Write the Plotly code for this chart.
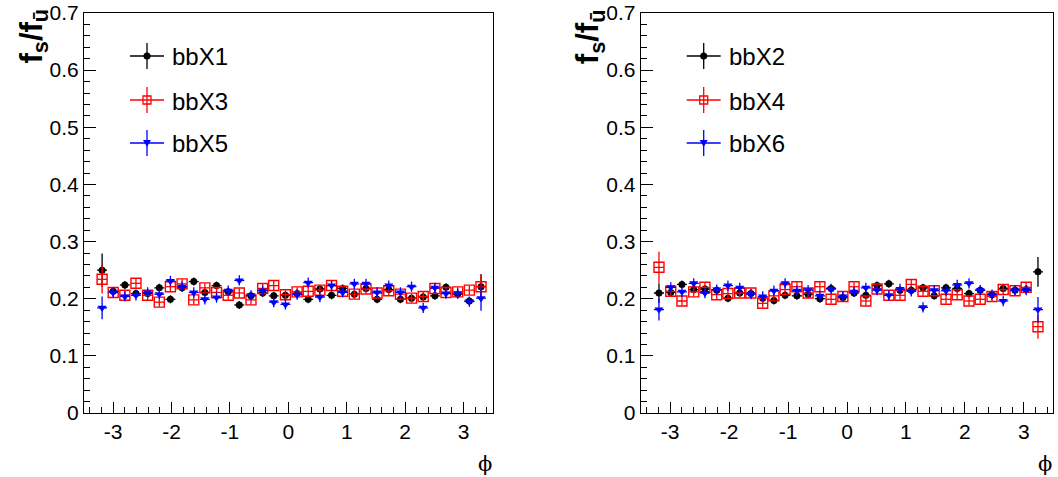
import plotly.graph_objects as go

W, H = 1058, 477

# ---------------- data ----------------
phi_left = [-3.19, -3.00, -2.80, -2.61, -2.41, -2.21, -2.02, -1.82, -1.62, -1.43,
            -1.23, -1.03, -0.84, -0.64, -0.44, -0.25, -0.05, 0.15, 0.34, 0.54,
            0.74, 0.93, 1.13, 1.33, 1.52, 1.72, 1.92, 2.11, 2.31, 2.51,
            2.70, 2.90, 3.10, 3.30]
phi_right = [-3.19, -2.99, -2.80, -2.60, -2.41, -2.21, -2.02, -1.82, -1.63, -1.43,
             -1.24, -1.05, -0.85, -0.66, -0.46, -0.27, -0.07, 0.12, 0.32, 0.51,
             0.71, 0.90, 1.09, 1.29, 1.48, 1.68, 1.87, 2.07, 2.26, 2.46,
             2.65, 2.85, 3.04, 3.24]
phi_err = [0.085] * len(phi_left)

bbX1 = [0.250, 0.213, 0.224, 0.209, 0.209, 0.219, 0.199, 0.219, 0.230, 0.211,
        0.223, 0.212, 0.189, 0.205, 0.210, 0.205, 0.206, 0.209, 0.199, 0.217,
        0.206, 0.218, 0.208, 0.218, 0.199, 0.216, 0.199, 0.201, 0.203, 0.205,
        0.220, 0.208, 0.196, 0.221]
bbX3 = [0.234, 0.211, 0.206, 0.227, 0.206, 0.194, 0.221, 0.226, 0.198, 0.219,
        0.211, 0.206, 0.210, 0.198, 0.218, 0.223, 0.207, 0.212, 0.213, 0.215,
        0.223, 0.213, 0.208, 0.217, 0.210, 0.214, 0.208, 0.201, 0.204, 0.218,
        0.211, 0.212, 0.215, 0.221]
bbX5 = [0.184, 0.211, 0.204, 0.206, 0.211, 0.208, 0.231, 0.221, 0.211, 0.199,
        0.202, 0.214, 0.232, 0.206, 0.214, 0.194, 0.190, 0.207, 0.228, 0.203,
        0.223, 0.211, 0.226, 0.226, 0.211, 0.223, 0.211, 0.221, 0.184, 0.219,
        0.209, 0.209, 0.195, 0.201]

bbX2 = [0.210, 0.211, 0.225, 0.216, 0.217, 0.215, 0.201, 0.210, 0.209, 0.201,
        0.197, 0.206, 0.205, 0.208, 0.200, 0.218, 0.202, 0.210, 0.206, 0.223,
        0.226, 0.215, 0.215, 0.219, 0.205, 0.219, 0.218, 0.209, 0.215, 0.207,
        0.218, 0.215, 0.216, 0.247]
bbX4 = [0.255, 0.213, 0.196, 0.212, 0.220, 0.207, 0.209, 0.210, 0.210, 0.192,
        0.205, 0.216, 0.221, 0.210, 0.221, 0.199, 0.204, 0.221, 0.196, 0.217,
        0.206, 0.206, 0.225, 0.213, 0.214, 0.199, 0.207, 0.196, 0.199, 0.204,
        0.216, 0.214, 0.220, 0.151]
bbX6 = [0.181, 0.220, 0.212, 0.227, 0.210, 0.216, 0.223, 0.219, 0.208, 0.204,
        0.214, 0.227, 0.214, 0.215, 0.205, 0.217, 0.204, 0.212, 0.219, 0.215,
        0.206, 0.217, 0.213, 0.185, 0.215, 0.214, 0.224, 0.227, 0.215, 0.207,
        0.196, 0.215, 0.215, 0.181]

err1 = [0.029] + [0.007] * 32 + [0.022]
err3 = [0.025] + [0.008] * 32 + [0.022]
err5 = [0.020] + [0.009] * 32 + [0.022]
err2 = [0.017] + [0.007] * 32 + [0.026]
err4 = [0.027] + [0.008] * 32 + [0.021]
err6 = [0.019] + [0.009] * 32 + [0.022]

x_ticks = [-3, -2, -1, 0, 1, 2, 3]
x_ticktext = ["-3", "-2", "-1", "0", "1", "2", "3"]
y_ticks = [0, 0.1, 0.2, 0.3, 0.4, 0.5, 0.6, 0.7]
y_ticktext = ["0", "0.1", "0.2", "0.3", "0.4", "0.5", "0.6", "0.7"]

left_series = [("bbX1", bbX1, err1), ("bbX3", bbX3, err3), ("bbX5", bbX5, err5)]
right_series = [("bbX2", bbX2, err2), ("bbX4", bbX4, err4), ("bbX6", bbX6, err6)]

# ---------------- styles ----------------
FONT = "Liberation Sans"
colors = ["#000000", "#ff0000", "#0000ff"]
markers = [
    dict(symbol="circle", size=7, color="#000000"),
    dict(symbol="square-open", size=10, color="#ff0000", line=dict(width=1.4, color="#ff0000")),
    dict(symbol="triangle-down", size=8, color="#0000ff"),
]


def px(x):
    return x / W


def py(y):
    return 1 - y / H


fig = go.Figure()

panels = [
    ("x", "y", left_series, phi_left, 84.0),
    ("x2", "y2", right_series, phi_right, 640.7),
]

for xa, ya, series, phis, _ in panels:
    for i, (name, vals, errs) in enumerate(series):
        fig.add_trace(go.Scatter(
            x=phis, y=vals, xaxis=xa, yaxis=ya, mode="markers", name=name,
            showlegend=False,
            marker=markers[i],
            error_x=dict(type="data", array=phi_err, width=0, thickness=1.3, color=colors[i]),
            error_y=dict(type="data", array=errs, width=0, thickness=1.3, color=colors[i]),
        ))

axis_common = dict(
    showline=True, linecolor="#000000", linewidth=1, mirror=True,
    ticks="inside", tickcolor="#000000", tickwidth=1,
    showgrid=False, zeroline=False, automargin=False,
    tickfont=dict(family=FONT, size=21, color="#000000"),
)

x_domains = [[84.0 / W, 492.7 / W], [640.7 / W, 1053.3 / W]]
y_domain = [(H - 413.0) / H, (H - 13.0) / H]

for k, xd in enumerate(x_domains):
    sfx = "" if k == 0 else "2"
    fig.layout["xaxis" + sfx] = dict(
        axis_common, domain=xd, range=[-3.5, 3.5], anchor="y" + sfx,
        tickmode="array", tickvals=x_ticks, ticktext=x_ticktext, ticklen=11,
        minor=dict(tickmode="linear", tick0=0, dtick=0.2, ticklen=6, ticks="inside",
                   tickcolor="#000000", tickwidth=1),
    )
    fig.layout["yaxis" + sfx] = dict(
        axis_common, domain=y_domain, range=[0, 0.7], anchor="x" + sfx,
        tickmode="array", tickvals=y_ticks, ticktext=y_ticktext, ticklen=12,
        minor=dict(tickmode="linear", tick0=0, dtick=0.02, ticklen=6, ticks="inside",
                   tickcolor="#000000", tickwidth=1),
    )

annotations = []
shapes = []
for k, (xa, ya, series, _, x0) in enumerate(panels):
    right_edge = x_domains[k][1] * W
    # y-axis title
    annotations.append(dict(
        text="<b>f<sub>s</sub>/f<sub>ū</sub></b>", textangle=-90,
        x=px(x0 - 51), y=py(7), xref="paper", yref="paper",
        xanchor="center", yanchor="top", showarrow=False,
        font=dict(family=FONT, size=31, color="#000000"),
    ))
    # x-axis title
    annotations.append(dict(
        text="ϕ", x=px(right_edge + 1), y=py(464), xref="paper", yref="paper",
        xanchor="right", yanchor="middle", showarrow=False,
        font=dict(family="DejaVu Serif", size=21, color="#000000"),
    ))
    # legend (drawn by hand, ROOT style)
    off = x0 - 84.0
    rows = [56, 100, 143]
    for i, (name, _, _) in enumerate(series):
        cx = 147 + off
        cy = rows[i]
        c = colors[i]
        shapes.append(dict(type="line", xref="paper", yref="paper",
                           x0=px(cx - 17), x1=px(cx + 17), y0=py(cy), y1=py(cy),
                           line=dict(color=c, width=1.3)))
        shapes.append(dict(type="line", xref="paper", yref="paper",
                           x0=px(cx), x1=px(cx), y0=py(cy - 13), y1=py(cy + 13),
                           line=dict(color=c, width=1.3)))
        if i == 0:
            shapes.append(dict(type="circle", xref="paper", yref="paper",
                               x0=px(cx - 3.5), x1=px(cx + 3.5), y0=py(cy + 3.5), y1=py(cy - 3.5),
                               fillcolor=c, line=dict(width=0)))
        elif i == 1:
            shapes.append(dict(type="rect", xref="paper", yref="paper",
                               x0=px(cx - 4), x1=px(cx + 4), y0=py(cy + 4), y1=py(cy - 4),
                               fillcolor="rgba(0,0,0,0)", line=dict(color=c, width=1.3)))
        else:
            path = "M {:.5f} {:.5f} L {:.5f} {:.5f} L {:.5f} {:.5f} Z".format(
                px(cx - 4), py(cy - 3), px(cx + 4), py(cy - 3), px(cx), py(cy + 4))
            shapes.append(dict(type="path", xref="paper", yref="paper", path=path,
                               fillcolor=c, line=dict(width=0)))
        annotations.append(dict(
            text=name, x=px(170 + off), y=py(cy + 1), xref="paper", yref="paper",
            xanchor="left", yanchor="middle", showarrow=False,
            font=dict(family=FONT, size=24, color="#000000"),
        ))

fig.update_layout(
    width=W, height=H,
    margin=dict(l=0, r=0, t=0, b=0, pad=0),
    paper_bgcolor="#ffffff", plot_bgcolor="#ffffff",
    showlegend=False,
    annotations=annotations, shapes=shapes,
    font=dict(family=FONT, color="#000000"),
)

fig.write_html("out.html", config={"displayModeBar": False},
               post_script="document.body.style.margin='0';")
